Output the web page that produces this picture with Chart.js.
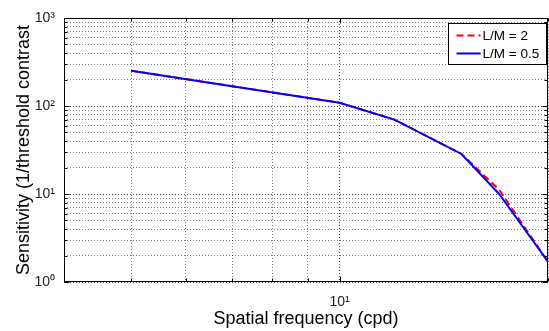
<!DOCTYPE html>
<html>
<head>
<meta charset="utf-8">
<title>Sensitivity vs spatial frequency</title>
<script src="https://cdn.jsdelivr.net/npm/chart.js@4.4.1/dist/chart.umd.min.js"></script>
<style>
  html, body { margin: 0; padding: 0; background: #fff; }
</style>
</head>
<body>
<canvas id="csf" width="549" height="331"></canvas>
<script>
// spatial frequency (cpd) and sensitivity
const freqs = [5, 10, 12, 15, 17, 20];
const sensLM2 = [252, 109, 70, 28.5, 11.2, 1.7];
const sensLM05 = [252, 109, 70, 28.5, 10, 1.7];

const seriesNames = ['L/M = 2', 'L/M = 0.5'];
const seriesColors = ['#ff0000', '#0000ff'];

// log axes: grid on every 1..9 x 10^n, labels only on the decades
const xRange = [4, 20];
const yRange = [1, 1000];
const xMajorTicks = [10];
const yMajorTicks = [1, 10, 100, 1000];
const xTickLabels = ['10\u00b9'];
const yTickLabels = ['10\u2070', '10\u00b9', '10\u00b2', '10\u00b3'];

const FONT = "'Liberation Sans', Helvetica, Arial, sans-serif";

function logTicks(lo, hi) {
    const out = [];
    for (let e = Math.floor(Math.log10(lo)); e <= Math.ceil(Math.log10(hi)); e++) {
        for (let m = 1; m <= 9; m++) {
            const v = m * Math.pow(10, e);
            if (v >= lo - 1e-9 && v <= hi + 1e-9) out.push(v);
        }
    }
    return out;
}

function majorIndex(v, majors) {
    return majors.findIndex(m => Math.abs(m - v) < 1e-6 * m);
}

function toPoints(ys) {
    return freqs.map((f, i) => ({ x: f, y: ys[i] }));
}

function gridColor(majors) {
    return ctx => (ctx.tick && majorIndex(ctx.tick.value, majors) >= 0)
        ? 'rgba(0,0,0,0.7)' : 'rgba(0,0,0,0.5)';
}

// box round the plot with small inward ticks, like matlab's "box on"
const boxPlugin = {
    id: 'boxPlugin',
    afterDatasetsDraw(chart) {
        const { ctx, chartArea: a, scales: { x, y } } = chart;
        const L = Math.round(a.left) + 0.5, R = Math.round(a.right) - 0.5;
        const T = Math.round(a.top) + 0.5, B = Math.round(a.bottom) - 0.5;
        ctx.save();
        ctx.strokeStyle = '#000';
        ctx.lineWidth = 1;
        ctx.beginPath();
        x.ticks.forEach(t => {
            const px = Math.round(x.getPixelForValue(t.value)) + 0.5;
            const len = majorIndex(t.value, xMajorTicks) >= 0 ? 5 : 3;
            ctx.moveTo(px, B); ctx.lineTo(px, B - len);
            ctx.moveTo(px, T); ctx.lineTo(px, T + len);
        });
        y.ticks.forEach(t => {
            const py = Math.round(y.getPixelForValue(t.value)) + 0.5;
            const len = majorIndex(t.value, yMajorTicks) >= 0 ? 5 : 3;
            ctx.moveTo(L, py); ctx.lineTo(L + len, py);
            ctx.moveTo(R, py); ctx.lineTo(R - len, py);
        });
        ctx.stroke();
        ctx.strokeRect(L, T, R - L, B - T);
        ctx.restore();
    }
};

// legend box in the top right corner of the axes
const legendPlugin = {
    id: 'legendPlugin',
    afterDraw(chart) {
        const { ctx, chartArea: a } = chart;
        const w = 98, h = 41;
        const bx = Math.round(a.right) - 2 - w + 0.5;
        const by = Math.round(a.top) + 5 + 0.5;
        ctx.save();
        ctx.fillStyle = '#fff';
        ctx.fillRect(bx, by, w, h);
        ctx.strokeStyle = '#000';
        ctx.lineWidth = 1;
        ctx.strokeRect(bx, by, w, h);
        ctx.font = '13.5px ' + FONT;
        ctx.textBaseline = 'middle';
        ctx.textAlign = 'left';
        chart.data.datasets.forEach((ds, i) => {
            const ry = by + 12 + i * 18;
            ctx.beginPath();
            ctx.strokeStyle = ds.borderColor;
            ctx.lineWidth = 2;
            ctx.setLineDash(ds.borderDash || []);
            ctx.moveTo(bx + 8, ry);
            ctx.lineTo(bx + 32, ry);
            ctx.stroke();
            ctx.setLineDash([]);
            ctx.fillStyle = '#000';
            ctx.fillText(ds.label, bx + 34, ry + 1);
        });
        ctx.restore();
    }
};

new Chart(document.getElementById('csf'), {
    type: 'line',
    data: {
        datasets: [
            {
                label: seriesNames[0],
                data: toPoints(sensLM2),
                borderColor: seriesColors[0],
                borderWidth: 2,
                borderDash: [7, 4],
                pointRadius: 0,
                tension: 0,
                order: 1
            },
            {
                label: seriesNames[1],
                data: toPoints(sensLM05),
                borderColor: seriesColors[1],
                borderWidth: 2,
                pointRadius: 0,
                tension: 0,
                order: 0
            }
        ]
    },
    options: {
        responsive: false,
        animation: false,
        layout: { padding: { top: 18, right: 1, left: 0, bottom: 0 } },
        plugins: { legend: { display: false }, tooltip: { enabled: false } },
        scales: {
            x: {
                type: 'logarithmic',
                min: xRange[0],
                max: xRange[1],
                afterBuildTicks: s => { s.ticks = logTicks(xRange[0], xRange[1]).map(v => ({ value: v })); },
                afterFit: s => { s.height = 49; },
                // invisible tick length keeps labels off the axis without widening the side padding
                grid: { color: gridColor(xMajorTicks), drawTicks: true, tickLength: 12, tickColor: 'rgba(0,0,0,0)' },
                border: { display: false, dash: [1, 2] },
                ticks: {
                    autoSkip: false,
                    maxRotation: 0,
                    padding: 0,
                    color: '#222',
                    font: { family: FONT, size: 14 },
                    callback: v => {
                        const i = majorIndex(v, xMajorTicks);
                        return i >= 0 ? xTickLabels[i] : '';
                    }
                },
                title: {
                    display: true,
                    text: 'Spatial frequency (cpd)',
                    color: '#000',
                    font: { family: FONT, size: 18 },
                    padding: { top: 0, bottom: 1 }
                }
            },
            y: {
                type: 'logarithmic',
                min: yRange[0],
                max: yRange[1],
                afterBuildTicks: s => { s.ticks = logTicks(yRange[0], yRange[1]).map(v => ({ value: v })); },
                afterFit: s => { s.width = 64; },
                grid: { color: gridColor(yMajorTicks), drawTicks: true, tickLength: 9, tickColor: 'rgba(0,0,0,0)' },
                border: { display: false, dash: [1, 2] },
                ticks: {
                    autoSkip: false,
                    padding: 0,
                    color: '#222',
                    font: { family: FONT, size: 14 },
                    callback: v => {
                        const i = majorIndex(v, yMajorTicks);
                        return i >= 0 ? yTickLabels[i] : '';
                    }
                },
                title: {
                    display: true,
                    text: 'Sensitivity (1/threshold contrast',
                    color: '#000',
                    font: { family: FONT, size: 18 },
                    padding: { top: 13, bottom: 0 }
                }
            }
        }
    },
    plugins: [boxPlugin, legendPlugin]
});
</script>
</body>
</html>
